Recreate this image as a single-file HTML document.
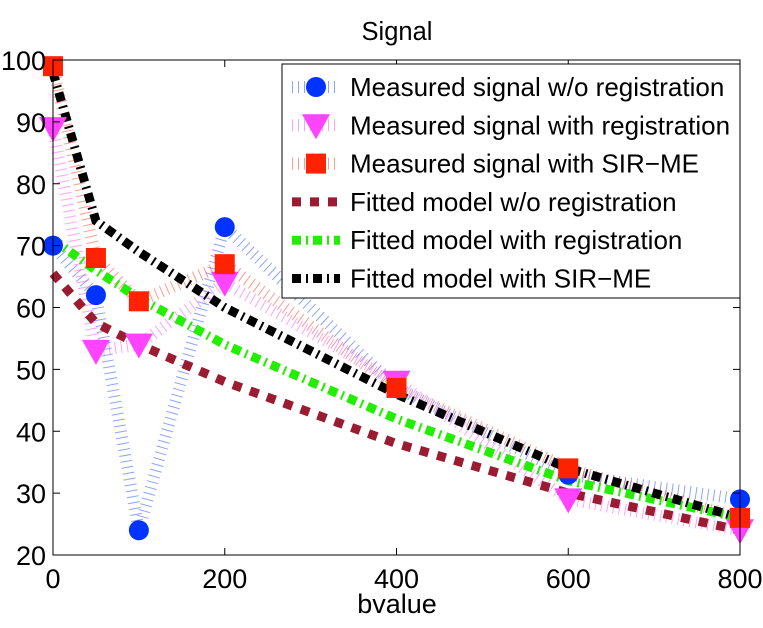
<!DOCTYPE html>
<html><head><meta charset="utf-8"><style>
body{margin:0;background:#fff;}
svg text{font-family:"Liberation Sans",sans-serif;fill:#000;}
</style></head><body>
<svg id="chart" width="763" height="623">
<rect x="0" y="0" width="763" height="623" fill="#fff"/>
<text x="397" y="40" font-size="25.5" text-anchor="middle">Signal</text>
<g id="plot"></g>
<rect x="53" y="60" width="687" height="495" fill="none" stroke="#000" stroke-width="1"/>
<g id="axes"></g>
<text x="397" y="613" font-size="27" text-anchor="middle">bvalue</text>
<g id="legend"></g>
</svg>
<script>
const bvalues=[0,50,100,200,400,600,800];
const measNoReg=[70,62,24,73,47,33,29];
const measReg=[89,53,54,64,48,29,24];
const measSir=[99,68,61,67,47,34,26];
const fitNoReg=[65.5,57.5,54,48,38,30,24];
const fitReg=[71,66,61.5,54,42,32,26];
const fitSir=[98,74,69,60,46,34,26];
const xTicks=[0,200,400,600,800];
const yTicks=[20,30,40,50,60,70,80,90,100];
const NS="http://www.w3.org/2000/svg";
const X=v=>53+v/800*687;
const Y=v=>555-(v-20)/80*495;
function mk(tag,attrs,parent){const e=document.createElementNS(NS,tag);for(const k in attrs)e.setAttribute(k,attrs[k]);parent.appendChild(e);return e;}
const plot=document.getElementById('plot');
const axes=document.getElementById('axes');
xTicks.forEach(t=>{
  const l=mk('line',{x1:X(t),x2:X(t),y1:555,y2:548,stroke:'#000'},axes);
  
  
  const l2=mk('line',{x1:X(t),x2:X(t),y1:60,y2:67,stroke:'#000'},axes);
  
  
  const tx=mk('text',{x:X(t),y:588,'font-size':27,'text-anchor':'middle'},axes);
  tx.textContent=t;
  
  
});
yTicks.forEach(t=>{
  const l=mk('line',{x1:53,x2:60,y1:Y(t),y2:Y(t),stroke:'#000'},axes);
  
  
  const l2=mk('line',{x1:733,x2:740,y1:Y(t),y2:Y(t),stroke:'#000'},axes);
  
  
  const tx=mk('text',{x:46,y:Y(t)+10,'font-size':27,'text-anchor':'end'},axes);
  tx.textContent=t;
  
  
});
function pts(arr){return arr.map((v,i)=>X(bvalues[i])+','+Y(v)).join(' ');}
const series=[
 {d:measNoReg,c:'#0033ff',dash:'1 5',w:12,op:0.45,m:'circle',name:'measured-no-registration'},
 {d:measReg,c:'#ff44ff',dash:'1 5',w:12,op:0.5,m:'tri',name:'measured-with-registration'},
 {d:measSir,c:'#ff2200',dash:'1 5',w:12,op:0.45,m:'square',name:'measured-sir-me'},
 {d:fitNoReg,c:'#9b1b30',dash:'9 9',w:9,op:1,m:null,name:'fitted-no-registration'},
 {d:fitReg,c:'#22ee00',dash:'9 5 2 5',w:9,op:1,m:null,name:'fitted-with-registration'},
 {d:fitSir,c:'#000000',dash:'9 5 2 5',w:9,op:1,m:null,name:'fitted-sir-me'}
];
function marker(type,x,y,c,parent){
  let e;
  if(type==='circle')e=mk('circle',{cx:x,cy:y,r:10,fill:c},parent);
  else if(type==='tri')e=mk('polygon',{points:`${x-14},${y-11} ${x+14},${y-11} ${x},${y+14}`,fill:c},parent);
  else e=mk('rect',{x:x-10,y:y-10,width:20,height:20,fill:c},parent);
  return e;
}
series.forEach(s=>{
  const pl=mk('polyline',{points:pts(s.d),fill:'none',stroke:s.c,'stroke-width':s.w,'stroke-dasharray':s.dash,'stroke-opacity':s.op},plot);
  
  
});
series.forEach(s=>{
  if(!s.m)return;
  s.d.forEach((v,i)=>{
    const e=marker(s.m,X(bvalues[i]),Y(v),s.c,plot);
    
    
  });
});
const labels=['Measured signal w/o registration','Measured signal with registration','Measured signal with SIR\u2212ME','Fitted model w/o registration','Fitted model with registration','Fitted model with SIR\u2212ME'];
const lg=document.getElementById('legend');
const box=mk('rect',{x:282,y:64,width:458,height:234,fill:'#fff',stroke:'#000','stroke-width':1},lg);


series.forEach((s,i)=>{
  const y=87+i*38.3;
  const g=mk('g',{},lg);
  
  
  mk('line',{x1:292,x2:340,y1:y,y2:y,stroke:s.c,'stroke-width':s.w,'stroke-dasharray':s.dash,'stroke-opacity':s.op},g);
  if(s.m)marker(s.m,316,y,s.c,g);
  const t=mk('text',{x:350,y:y+9,'font-size':26,textLength:0},g);
  t.removeAttribute('textLength');
  t.textContent=labels[i];
});
</script>
</body></html>
